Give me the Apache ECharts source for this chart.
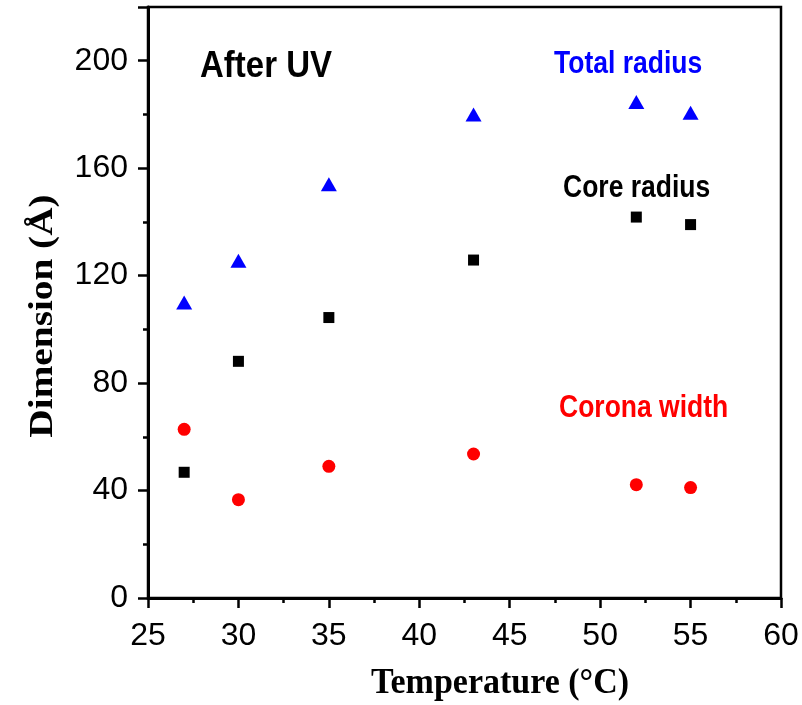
<!DOCTYPE html>
<html>
<head>
<meta charset="utf-8">
<script src="https://cdn.jsdelivr.net/npm/echarts@6/dist/echarts.min.js"></script>
<style>html,body{margin:0;padding:0;background:#fff}#c{width:802px;height:705px}</style>
</head>
<body>
<div id="c"></div>
<script>
const temperatures = [27, 30, 35, 43, 52, 55];
const totalRadius = [110, 125.5, 154, 180, 184.6, 180.6];
const coreRadius = [46.8, 88.1, 104.4, 125.8, 141.8, 139];
const coronaWidth = [62.8, 36.6, 49, 53.6, 42.2, 41.1];
const xTicks = [25, 30, 35, 40, 45, 50, 55, 60];
const yTicks = [0, 40, 80, 120, 160, 200];
const xTitle = 'Temperature (°C)';
const yTitle = 'Dimension (Å)';

const pair = (ys) => temperatures.map((t, i) => [t, ys[i]]);
const chart = echarts.init(document.getElementById('c'));
const axisFont = { fontFamily: 'Liberation Sans, Arial', fontSize: 32, color: '#000' };
const sans = 'bold 26.5px "Liberation Sans", Arial';
function note(text, x, y, color, font, sy) {
  return { type: 'text', x: x, y: y, scaleY: sy || 1.18,
    style: { text: text, fill: color, font: font, textAlign: 'left', textVerticalAlign: 'middle' } };
}
chart.setOption({
  animation: false,
  grid: { left: 148, right: 21, top: 7, bottom: 107, show: true, borderColor: '#000', borderWidth: 2.5 },
  xAxis: {
    type: 'value', min: 25, max: 60, interval: 5,
    axisLine: { show: true, lineStyle: { color: '#000', width: 3 } },
    axisTick: { show: true, length: 10, lineStyle: { color: '#000', width: 2.5 } },
    minorTick: { show: true, splitNumber: 2, length: 5, lineStyle: { color: '#000', width: 2.5 } },
    splitLine: { show: false },
    axisLabel: Object.assign({ margin: 22, formatter: v => xTicks.includes(v) ? String(v) : '' }, axisFont)
  },
  yAxis: {
    type: 'value', min: 0, max: 220, interval: 40,
    axisLine: { show: true, lineStyle: { color: '#000', width: 3 } },
    axisTick: { show: true, length: 10, lineStyle: { color: '#000', width: 2.5 } },
    minorTick: { show: true, splitNumber: 2, length: 5, lineStyle: { color: '#000', width: 2.5 } },
    splitLine: { show: false },
    axisLabel: Object.assign({ margin: 20, formatter: v => yTicks.includes(v) ? String(v) : '' }, axisFont)
  },
  graphic: [
    note('After UV', 200, 66.5, '#000', 'bold 33px "Liberation Sans", Arial', 1.14),
    note('Total radius', 554, 64.5, '#0000ff', sans),
    note('Core radius', 563, 188, '#000', sans),
    note('Corona width', 559, 408, '#ff0000', sans),
    { type: 'text', x: 500, y: 684, scaleY: 1.05,
      style: { text: xTitle, fill: '#000', font: 'bold 34px "Liberation Serif", "Times New Roman"', textAlign: 'center', textVerticalAlign: 'middle' } },
    { type: 'text', x: 43, y: 316, rotation: Math.PI / 2, scaleX: 1.19,
      style: { text: yTitle, fill: '#000', font: 'bold 33px "Liberation Serif", "Times New Roman"', textAlign: 'center', textVerticalAlign: 'middle' } }
  ],
  series: [
    { name: 'Total radius', type: 'scatter', symbol: 'triangle', symbolSize: [16, 14], itemStyle: { color: '#0000ff', opacity: 1 }, data: pair(totalRadius) },
    { name: 'Core radius', type: 'scatter', symbol: 'rect', symbolSize: 11, itemStyle: { color: '#000', opacity: 1 }, data: pair(coreRadius) },
    { name: 'Corona width', type: 'scatter', symbol: 'circle', symbolSize: 13, itemStyle: { color: '#ff0000', opacity: 1 }, data: pair(coronaWidth) }
  ]
});
</script>
</body>
</html>
